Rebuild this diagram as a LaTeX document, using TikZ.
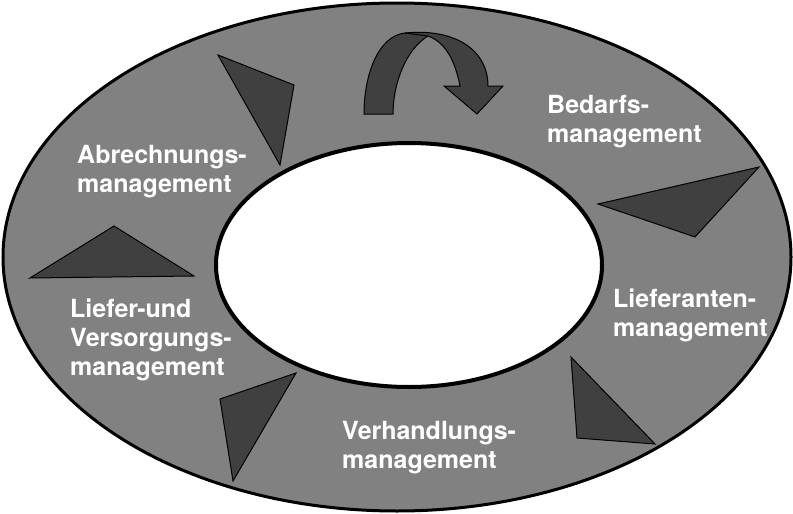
\documentclass[tikz,border=0pt]{standalone}
\usepackage{fontspec}
\setmainfont{TeX Gyre Heros}
\definecolor{ringgray}{RGB}{128,129,128}
\definecolor{wedgegray}{RGB}{64,64,64}
\begin{document}
\begin{tikzpicture}[x=1pt,y=-1pt,
  label/.style={anchor=base west,inner sep=0pt,text=white,align=left,
    font=\fontsize{25}{29}\selectfont\bfseries},
  wedge/.style={draw=black,line width=1pt,fill=wedgegray,line join=miter}]
\useasboundingbox (0,0) rectangle (793,514);
% ring
\draw[line width=3pt,fill=ringgray] (397,257) ellipse [x radius=394,y radius=254];
\draw[line width=4pt,fill=white] (409,265) ellipse [x radius=193,y radius=122];
% wedges around the ring
\draw[wedge] (218,55) -- (294,85) -- (280,165) -- cycle;
\draw[wedge] (30,278) -- (114,226) -- (194,276) -- cycle;
\draw[wedge] (598,204) -- (759,167) -- (695,237) -- cycle;
\draw[wedge] (571,357) -- (577,438) -- (655,444) -- cycle;
\draw[wedge] (220,399) -- (296,373) -- (233,481) -- cycle;
% curved arrow
\draw[wedge,line width=1pt] (364,114) .. controls (364,75) and (378,36) .. (405,33)
  .. controls (455,28) and (488,50) .. (488,86) -- (503,86) -- (477,114) -- (444,86) -- (460,86)
  .. controls (455,60) and (445,42) .. (428,36)
  .. controls (405,50) and (393,85) .. (393,114) -- cycle;
\draw[line width=1pt] (405,33) -- (428,36);
% labels (anchored at the baseline of the last line)
\node[label] (bedarf) at (547,142) {Bedarfs-\\management};
\node[label] (abrechnung) at (77,192) {Abrechnungs-\\management};
\node[label] (liefer) at (70,375) {Liefer-und\\Versorgungs-\\management};
\node[label] (lieferant) at (613,336) {Lieferanten-\\management};
\node[label] (verhandlung) at (342,468) {Verhandlungs-\\management};
\end{tikzpicture}
\end{document}
